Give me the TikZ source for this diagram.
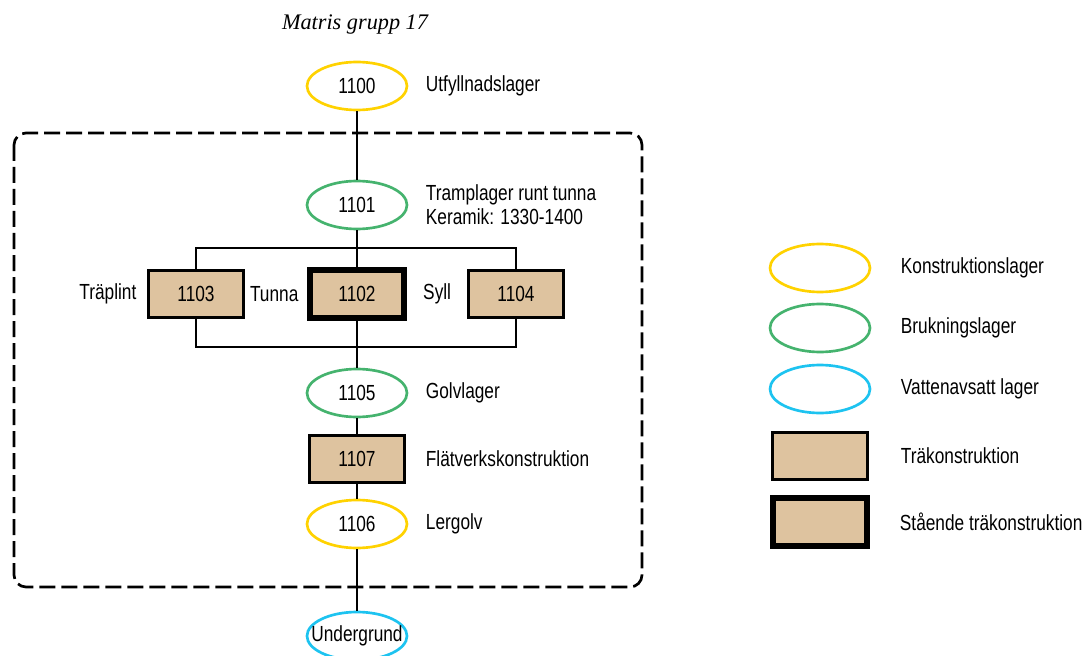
\documentclass[tikz,border=0pt]{standalone}
\usepackage{fontspec}
\newfontfamily\arialfont[FakeStretch=0.79]{Liberation Sans}
\newfontfamily\titlefont{Liberation Serif}
\usetikzlibrary{positioning,shapes.geometric}
\definecolor{LayerYellow}{HTML}{FFD200}
\definecolor{LayerGreen}{HTML}{45B36E}
\definecolor{LayerBlue}{HTML}{1DC3F0}
\definecolor{Wood}{HTML}{DEC39F}
\tikzset{
  layer/.style={ellipse,draw,fill=white,line width=2pt,minimum width=75pt,minimum height=36pt,inner sep=0pt,font=\arialfont\fontsize{16.4}{18}\selectfont,text=black},
  konstrlayer/.style={layer,draw=LayerYellow},
  brukslayer/.style={layer,draw=LayerGreen},
  vattenlayer/.style={layer,draw=LayerBlue},
  woodbox/.style={rectangle,draw=black,fill=Wood,line width=2pt,minimum width=71pt,minimum height=35.5pt,inner sep=0pt,font=\arialfont\fontsize{16.4}{18}\selectfont,text=black},
  standbox/.style={woodbox,line width=4.5pt},
  lbl/.style={inner sep=0pt,align=left,font=\arialfont\fontsize{16.4}{18}\selectfont,text=black},
  line/.style={draw=black,line width=2.1pt},
  framebox/.style={draw=black,line width=2pt,dash pattern=on 12pt off 4.5pt,rounded corners=9pt}
}

\begin{document}
\begin{tikzpicture}[x=0.75pt,y=-0.75pt]
  \useasboundingbox (0,0) rectangle (1089,656);
  \clip (0,0) rectangle (1089,656);

  \node[font=\titlefont\itshape\fontsize{16.7}{20}\selectfont] (title) at (355,25) {Matris grupp 17};

  % frame round the house
  \draw[framebox] (14,133) rectangle (642,587);

  % matrix
  \node[konstrlayer] (n1100) at (357,86) {1100};
  \node[lbl,right=13pt of n1100] (l1100) {Utfyllnadslager};
  \node[brukslayer] (n1101) at (357,205) {1101};
  \node[lbl,right=13pt of n1101] (l1101) {Tramplager runt tunna\\Keramik: 1330-1400};

  \node[woodbox] (n1103) at (196,294) {1103};
  \node[standbox] (n1102) at (357,294) {1102};
  \node[woodbox] (n1104) at (516,294) {1104};
  \node[lbl,left=8pt of n1103] (l1103) {Träplint};
  \node[lbl,left=6pt of n1102] (l1102) {Tunna};
  \node[lbl,left=12pt of n1104] (l1104) {Syll};

  \node[brukslayer] (n1105) at (357,393) {1105};
  \node[lbl,right=13pt of n1105] (l1105) {Golvlager};
  \node[woodbox] (n1107) at (357,459) {1107};
  \node[lbl,right=15pt of n1107] (l1107) {Flätverkskonstruktion};
  \node[konstrlayer] (n1106) at (357,524) {1106};
  \node[lbl,right=13pt of n1106] (l1106) {Lergolv};
  \node[vattenlayer] (under) at (357,636) {\makebox[0pt]{Undergrund}};

  \coordinate (topbar) at (357,248);
  \coordinate (botbar) at (357,347);
  \draw[line] (n1100) -- (n1101);
  \draw[line] (n1101) -- (n1102);
  \draw[line] (n1103.north) |- (topbar) -| (n1104.north);
  \draw[line] (n1103.south) |- (botbar) -| (n1104.south);
  \draw[line] (n1102) -- (n1105);
  \draw[line] (n1105) -- (n1107);
  \draw[line] (n1107) -- (n1106);
  \draw[line] (n1106) -- (under);

  % legend
  \node[konstrlayer] (legKonstr) at (820,268) {};
  \node[lbl,right=22pt of legKonstr] {Konstruktionslager};
  \node[brukslayer] (legBruk) at (820,328) {};
  \node[lbl,right=22pt of legBruk] {Brukningslager};
  \node[vattenlayer] (legVatten) at (820,389) {};
  \node[lbl,right=22pt of legVatten] {Vattenavsatt lager};
  \node[woodbox] (legWood) at (820,456) {};
  \node[lbl,right=24pt of legWood] {Träkonstruktion};
  \node[standbox] (legStand) at (820,522) {};
  \node[lbl,right=22pt of legStand] {Stående träkonstruktion};
\end{tikzpicture}
\end{document}
